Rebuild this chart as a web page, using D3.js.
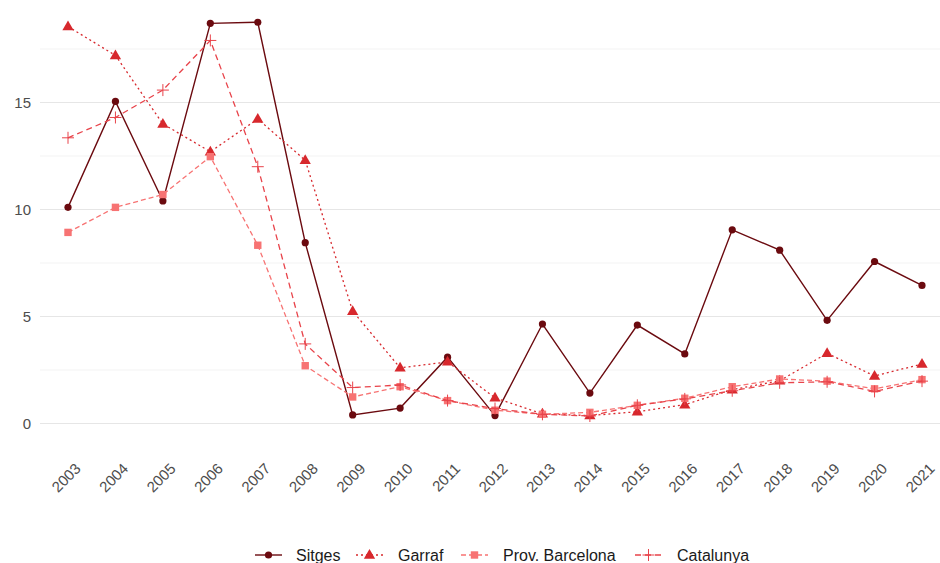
<!DOCTYPE html>
<html>
<head>
<meta charset="utf-8">
<script src="https://cdn.jsdelivr.net/npm/d3@7"></script>
<style>
  body { margin: 0; background: #fff; }
  text { font-family: 'Liberation Sans', Arial, sans-serif; }
</style>
</head>
<body>
<svg id="container"></svg>
<script>
const years = [2003, 2004, 2005, 2006, 2007, 2008, 2009, 2010, 2011, 2012, 2013, 2014, 2015, 2016, 2017, 2018, 2019, 2020, 2021];
const sitges = [10.1, 15.05, 10.4, 18.7, 18.75, 8.45, 0.4, 0.72, 3.1, 0.37, 4.65, 1.42, 4.6, 3.25, 9.05, 8.1, 4.82, 7.57, 6.45];
const garraf = [18.55, 17.2, 14.0, 12.7, 14.23, 12.3, 5.25, 2.6, 2.88, 1.2, 0.45, 0.37, 0.55, 0.88, 1.58, 2.0, 3.28, 2.22, 2.78];
const provBarcelona = [8.93, 10.1, 10.7, 12.47, 8.33, 2.7, 1.24, 1.72, 1.07, 0.62, 0.43, 0.52, 0.85, 1.18, 1.72, 2.08, 1.98, 1.62, 2.05];
const catalunya = [13.35, 14.3, 15.58, 17.9, 12.0, 3.72, 1.68, 1.8, 1.07, 0.7, 0.43, 0.35, 0.85, 1.15, 1.53, 1.9, 1.95, 1.5, 1.98];
const yTicks = [0, 5, 10, 15];
const yMinor = [2.5, 7.5, 12.5, 17.5];

const series = [
  { name: 'Sitges', values: sitges, color: '#6b0a0f', dash: null, shape: 'circle', width: 1.4 },
  { name: 'Garraf', values: garraf, color: '#d7282d', dash: '2,3', shape: 'triangle', width: 1.3 },
  { name: 'Prov. Barcelona', values: provBarcelona, color: '#f77373', dash: '5,3', shape: 'square', width: 1.3 },
  { name: 'Catalunya', values: catalunya, color: '#e8434a', dash: '6,4', shape: 'plus', width: 1.3 },
];

const W = 940, H = 563;
const svg = d3.select('#container').attr('width', W).attr('height', H);

const x = d3.scalePoint().domain(years).range([68, 922]);
const y = d3.scaleLinear().domain([0, 15]).range([423.5, 102.5]);

// grid
const grid = svg.append('g');
grid.selectAll('line.minor')
  .data(yMinor)
  .enter()
  .append('line')
  .attr('x1', 40).attr('x2', W)
  .attr('y1', (d) => y(d)).attr('y2', (d) => y(d))
  .attr('stroke', '#f0f0f0').attr('stroke-width', 0.8);
grid.selectAll('line.major')
  .data(yTicks)
  .enter()
  .append('line')
  .attr('x1', 40).attr('x2', W)
  .attr('y1', (d) => y(d)).attr('y2', (d) => y(d))
  .attr('stroke', '#e6e6e6').attr('stroke-width', 1.1);

// y axis labels
const yAxis = d3.axisLeft(y).tickValues(yTicks).tickSize(0).tickPadding(0);
const gY = svg.append('g').attr('transform', 'translate(31,0)').call(yAxis);
gY.select('.domain').remove();
gY.selectAll('text')
  .style('font-size', '15px')
  .attr('fill', '#4d4d4d')
  .style('font-family', "'Liberation Sans', Arial, sans-serif");

// x axis labels, rotated
const xAxis = d3.axisBottom(x).tickSize(0).tickPadding(0);
const gX = svg.append('g').call(xAxis);
gX.select('.domain').remove();
gX.selectAll('.tick').attr('transform', (d) => 'translate(' + (x(d) + 6) + ',462)');
gX.selectAll('text')
  .attr('y', 0).attr('dy', '0.72em')
  .attr('transform', 'rotate(-45)')
  .style('text-anchor', 'end')
  .style('font-size', '15px')
  .attr('fill', '#4d4d4d')
  .style('font-family', "'Liberation Sans', Arial, sans-serif");

function drawShape(g, shape, color, cx, cy) {
  if (shape === 'circle') {
    g.append('circle').attr('cx', cx).attr('cy', cy).attr('r', 3.6).attr('fill', color);
  } else if (shape === 'triangle') {
    g.append('path')
      .attr('d', d3.symbol().type(d3.symbolTriangle).size(55)())
      .attr('transform', 'translate(' + cx + ',' + (cy + 0.5) + ')')
      .attr('fill', color);
  } else if (shape === 'square') {
    const a = 7.4;
    g.append('rect').attr('x', cx - a / 2).attr('y', cy - a / 2).attr('width', a).attr('height', a).attr('fill', color);
  } else if (shape === 'plus') {
    const a = 6;
    g.append('path')
      .attr('d', 'M' + (cx - a) + ',' + cy + 'H' + (cx + a) + 'M' + cx + ',' + (cy - a) + 'V' + (cy + a))
      .attr('stroke', color).attr('stroke-width', 1).attr('fill', 'none');
  }
}

const line = d3.line().x((d, i) => x(years[i])).y((d) => y(d));

series.forEach((s) => {
  const g = svg.append('g');
  g.append('path')
    .attr('d', line(s.values))
    .attr('fill', 'none')
    .attr('stroke', s.color)
    .attr('stroke-width', s.width)
    .attr('stroke-dasharray', s.dash);
  s.values.forEach((v, i) => drawShape(g, s.shape, s.color, x(years[i]), y(v)));
});

// legend
const legendKeyX = [255, 356, 461, 635];
const legendTextX = [296, 398, 503, 677];
const ly = 555;
series.forEach((s, i) => {
  const g = svg.append('g');
  const lx = legendKeyX[i];
  g.append('line')
    .attr('x1', lx).attr('x2', lx + 27)
    .attr('y1', ly).attr('y2', ly)
    .attr('stroke', s.color).attr('stroke-width', s.width)
    .attr('stroke-dasharray', s.dash);
  drawShape(g, s.shape, s.color, lx + 13.5, ly);
  g.append('text')
    .attr('x', legendTextX[i]).attr('y', ly)
    .attr('dy', '0.35em')
    .style('font-size', '16px')
    .attr('fill', '#1a1a1a')
    .text(s.name);
});
</script>
</body>
</html>
